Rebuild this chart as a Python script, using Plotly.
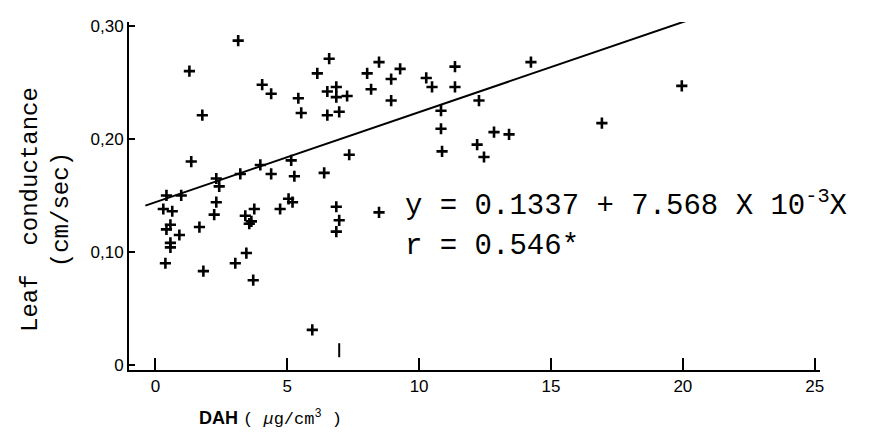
import plotly.graph_objects as go

# DAH (ug/cm3) and leaf conductance (cm/sec)
dah = [3.14, 1.29, 4.05, 4.39, 5.42, 1.78, 1.36, 3.98, 5.15, 4.39, 5.27, 2.31, 3.22,
       2.42, 0.42, 0.98, 0.30, 0.64, 2.31, 2.23, 0.42, 0.57, 0.91, 1.67, 0.57, 0.57,
       0.38, 1.82, 3.03, 3.45, 3.71, 3.41, 3.75, 3.64, 3.56, 4.73, 5.05, 5.20, 6.86,
       6.97, 6.86, 8.48, 5.95, 9.32, 6.59, 6.14, 8.48, 8.03, 9.28, 8.94, 10.27, 10.49,
       6.52, 6.86, 6.86, 7.27, 8.18, 5.53, 6.52, 6.97, 8.94, 10.83, 10.83, 10.87, 7.35,
       6.40, 11.67, 11.36, 11.36, 14.24, 12.27, 12.20, 12.46, 12.84, 13.41, 16.93, 19.96]
conductance = [0.287, 0.260, 0.248, 0.240, 0.236, 0.221, 0.180, 0.177, 0.181, 0.169,
               0.167, 0.165, 0.169, 0.158, 0.150, 0.150, 0.138, 0.136, 0.144, 0.133,
               0.120, 0.124, 0.115, 0.122, 0.108, 0.104, 0.090, 0.083, 0.090, 0.099,
               0.075, 0.132, 0.138, 0.127, 0.125, 0.138, 0.147, 0.144, 0.140, 0.128,
               0.118, 0.135, 0.031, 0.305, 0.271, 0.258, 0.268, 0.258, 0.262, 0.253,
               0.254, 0.246, 0.242, 0.246, 0.237, 0.238, 0.244, 0.223, 0.221, 0.224,
               0.234, 0.225, 0.209, 0.189, 0.186, 0.170, 0.304, 0.264, 0.246, 0.268,
               0.234, 0.195, 0.184, 0.206, 0.204, 0.214, 0.247]

# stray vertical mark near the bottom
mark_x = [6.97]
mark_y = [0.013]

# regression line end points as drawn
fit_x = [-0.38, 20.57]
fit_y = [0.141, 0.308]

x_ticks = [0, 5, 10, 15, 20, 25]
y_ticks = [0, 0.10, 0.20, 0.30]
y_tick_text = ["0", "0,10", "0,20", "0,30"]

fig = go.Figure()
fig.add_trace(go.Scatter(x=fit_x, y=fit_y, mode="lines", cliponaxis=False,
                         line=dict(color="black", width=2), hoverinfo="skip"))
fig.add_trace(go.Scatter(x=dah, y=conductance, mode="markers", cliponaxis=False,
                         marker=dict(symbol="cross-thin", size=8,
                                     line=dict(color="black", width=2.6))))
fig.add_trace(go.Scatter(x=mark_x, y=mark_y, mode="markers", cliponaxis=False,
                         marker=dict(symbol="line-ns", size=10,
                                     line=dict(color="black", width=2))))

mono = "Liberation Mono"
fig.add_annotation(x=0.397, y=0.477, xref="paper", yref="paper", xanchor="left",
                   yanchor="middle", showarrow=False,
                   text="y = 0.1337 + 7.568 X 10<sup>-3</sup>X",
                   font=dict(family=mono, size=29, color="black"))
fig.add_annotation(x=0.397, y=0.356, xref="paper", yref="paper", xanchor="left",
                   yanchor="middle", showarrow=False,
                   text="r = 0.546*",
                   font=dict(family=mono, size=29, color="black"))
# y axis title
fig.add_annotation(x=(38 - 121) / 691, y=(362 - 202) / 348, xref="paper", yref="paper",
                   xanchor="center", yanchor="middle", showarrow=False, textangle=-90,
                   text="Leaf  conductance<br>(cm/sec)",
                   font=dict(family=mono, size=24, color="black"))
# x axis title
fig.add_annotation(x=(262 - 121) / 691, y=-(410 - 362) / 348, xref="paper", yref="paper",
                   xanchor="center", yanchor="middle", showarrow=False,
                   text="<b>DAH</b> <span style='font-family:Liberation Mono;font-size:17px'>( <i>μ</i>g/cm<sup>3</sup> )</span>",
                   font=dict(family="Liberation Sans", size=18, color="black"))

fig.update_layout(
    width=869, height=439,
    margin=dict(l=121, r=57, t=14, b=77),
    paper_bgcolor="white", plot_bgcolor="white",
    showlegend=False,
    font=dict(family="Liberation Sans", color="black"),
    xaxis=dict(range=[-1.0, 25.2], tickvals=x_ticks, ticks="inside", ticklen=12,
               tickwidth=2, tickcolor="black", showline=True, linecolor="black",
               linewidth=2, showgrid=False, zeroline=False, automargin=False,
               tickfont=dict(family="Liberation Sans", size=17, color="black")),
    yaxis=dict(range=[-0.0045, 0.3035], tickvals=y_ticks, ticktext=y_tick_text,
               ticks="inside", ticklen=6, tickwidth=2, tickcolor="black",
               showline=True, linecolor="black", linewidth=2, showgrid=False,
               zeroline=False, automargin=False,
               tickfont=dict(family="Liberation Sans", size=17, color="black")),
)

fig.write_html("out.html")
